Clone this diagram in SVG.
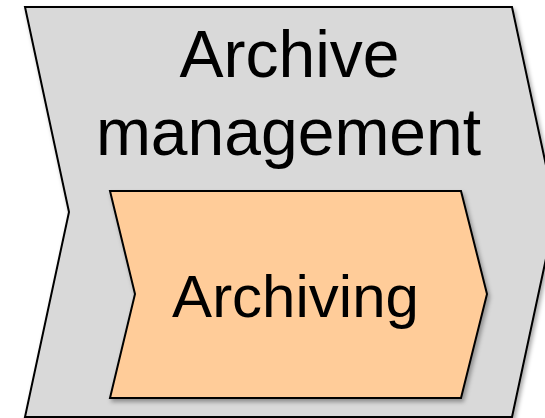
<svg xmlns="http://www.w3.org/2000/svg" width="545" height="418" viewBox="0 0 545 418">
<defs>
<filter id="sh" x="-10%" y="-10%" width="130%" height="130%">
<feDropShadow dx="2" dy="3" stdDeviation="2" flood-color="#000" flood-opacity="0.35"/>
</filter>
<style>
.shape{stroke:#000;stroke-width:2;stroke-linejoin:miter;filter:url(#sh)}
.t{font-family:"Liberation Sans",Arial,sans-serif;fill:#000;text-anchor:middle}
</style>
</defs>
<rect width="545" height="418" fill="#fff"/>
<g id="archive-management">
<polygon class="shape" fill="#d9d9d9" points="25,7 512,7 556,212 512,417 25,417 69,212"/>
<text class="t" x="289.5" y="77" font-size="66">Archive</text>
<text class="t" x="288.5" y="155" font-size="66">management</text>
</g>
<g id="archiving">
<polygon class="shape" fill="#ffcc99" points="110,191 461,191 487,294 461,398 110,398 135,294"/>
<text class="t" x="295.5" y="317" font-size="60">Archiving</text>
</g>
<g id="connectors"/>
</svg>
